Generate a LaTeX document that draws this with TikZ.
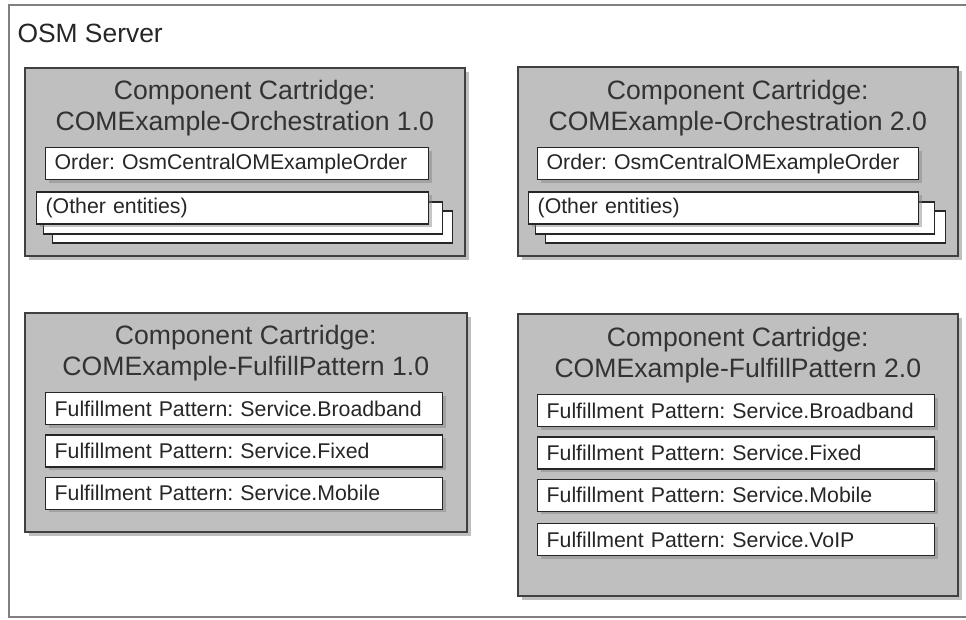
\documentclass[tikz,border=0pt]{standalone}
\usepackage{fontspec}
\setmainfont{Liberation Sans}
\usetikzlibrary{positioning, shadows}
\frenchspacing

\tikzset{
  cartridge/.style={draw=black!75, fill=black!25, line width=1.6pt, anchor=north west,
    drop shadow={shadow xshift=4pt, shadow yshift=-4pt, fill=black!50, opacity=.5}},
  cartlabel/.style={align=center, text=black!80, font=\fontsize{26.6}{31}\selectfont},
  entry/.style={draw=black!85, fill=white, line width=1.3pt, minimum height=32pt,
    inner xsep=9pt, inner ysep=2pt, text width=#1, align=left, text=black!85,
    font=\fontsize{21.3}{24}\selectfont,
    drop shadow={shadow xshift=3pt, shadow yshift=-3pt, fill=black!50, opacity=.45}},
  stackpage/.style={draw=black!85, fill=white, line width=1.3pt, minimum height=32pt,
    minimum width=#1, inner sep=0pt}
}

\begin{document}
\begin{tikzpicture}[x=1pt,y=-1pt,node distance=9pt]
    \useasboundingbox (0,0) rectangle (966,620);
    \draw[black!50, line width=2.5pt] (966,5) -- (9,5) -- (9,617) -- (966,617);
    \node[anchor=west, text=black!85, font=\fontsize{26.4}{31}\selectfont] (server) at (14,33) {OSM Server};

    \node[cartridge, minimum width=440pt, minimum height=188pt] (c1) at (24,67) {};
    \node[cartridge, minimum width=440pt, minimum height=189pt] (c2) at (517,66) {};
    \node[cartridge, minimum width=442pt, minimum height=219pt] (c3) at (24,312) {};
    \node[cartridge, minimum width=440pt, minimum height=282pt] (c4) at (517,313) {};

    \node[cartlabel] (c1t) at ([yshift=-41pt]c1.north) {Component Cartridge:\\COMExample-Orchestration 1.0};
    \node[cartlabel] (c2t) at ([yshift=-42pt]c2.north) {Component Cartridge:\\COMExample-Orchestration 2.0};
    \node[cartlabel] (c3t) at ([yshift=-41pt]c3.north) {Component Cartridge:\\COMExample-FulfillPattern 1.0};
    \node[cartlabel] (c4t) at ([yshift=-42pt]c4.north) {Component Cartridge:\\COMExample-FulfillPattern 2.0};

    % orchestration cartridges
    \node[entry=365pt, below right=80pt and 21pt of c1.north west] (c1o) {Order: OsmCentralOMExampleOrder};
    \node[stackpage=400pt, below right=30pt and 7pt of c1o.south west] (c1p2) {};
    \node[stackpage=399pt, below right=21pt and -2pt of c1o.south west] (c1p1) {};
    \node[entry=374pt, below right=11pt and -9pt of c1o.south west] (c1e) {(Other entities)};

    \node[entry=363pt, below right=81pt and 20pt of c2.north west] (c2o) {Order: OsmCentralOMExampleOrder};
    \node[stackpage=400pt, below right=30pt and 8pt of c2o.south west] (c2p2) {};
    \node[stackpage=399pt, below right=21pt and -2pt of c2o.south west] (c2p1) {};
    \node[entry=372pt, below right=11pt and -9pt of c2o.south west] (c2e) {(Other entities)};

    % fulfillment pattern cartridges
    \node[entry=379pt, below right=80pt and 21pt of c3.north west] (c3a) {Fulfillment Pattern: Service.Broadband};
    \node[entry=379pt, below=of c3a] (c3b) {Fulfillment Pattern: Service.Fixed};
    \node[entry=379pt, below=of c3b] (c3c) {Fulfillment Pattern: Service.Mobile};

    \node[entry=379pt, below right=81pt and 20pt of c4.north west] (c4a) {Fulfillment Pattern: Service.Broadband};
    \node[entry=379pt, below=of c4a] (c4b) {Fulfillment Pattern: Service.Fixed};
    \node[entry=379pt, below=of c4b] (c4c) {Fulfillment Pattern: Service.Mobile};
    \node[entry=379pt, below=11pt of c4c] (c4d) {Fulfillment Pattern: Service.VoIP};
\end{tikzpicture}
\end{document}
